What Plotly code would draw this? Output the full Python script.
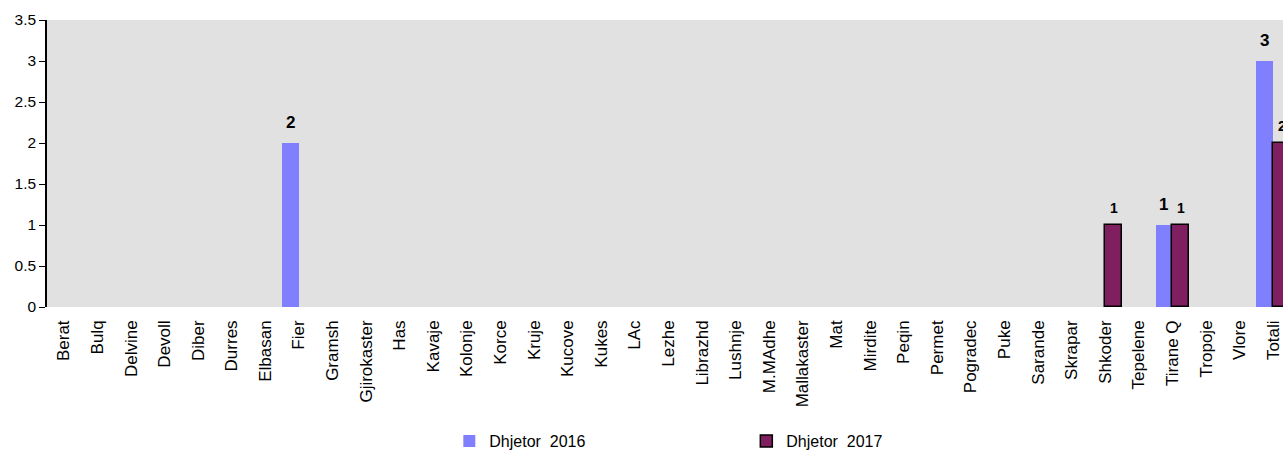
import plotly.graph_objects as go

categories = ["Berat", "Bulq", "Delvine", "Devoll", "Diber", "Durres", "Elbasan", "Fier",
              "Gramsh", "Gjirokaster", "Has", "Kavaje", "Kolonje", "Korce", "Kruje", "Kucove",
              "Kukes", "LAc", "Lezhe", "Librazhd", "Lushnje", "M.MAdhe", "Mallakaster", "Mat",
              "Mirdite", "Peqin", "Permet", "Pogradec", "Puke", "Sarande", "Skrapar", "Shkoder",
              "Tepelene", "Tirane Q", "Tropoje", "Vlore", "Totali"]
dhjetor_2016 = [0, 0, 0, 0, 0, 0, 0, 2, 0, 0, 0, 0, 0, 0, 0, 0, 0, 0, 0, 0, 0, 0, 0, 0,
                0, 0, 0, 0, 0, 0, 0, 0, 0, 1, 0, 0, 3]
dhjetor_2017 = [0, 0, 0, 0, 0, 0, 0, 0, 0, 0, 0, 0, 0, 0, 0, 0, 0, 0, 0, 0, 0, 0, 0, 0,
                0, 0, 0, 0, 0, 0, 0, 1, 0, 1, 0, 0, 2]
series_names = ["Dhjetor  2016", "Dhjetor  2017"]

BLUE = "#8080FF"
PURPLE = "#801F60"
FONT = "Liberation Sans, Arial, sans-serif"

fig = go.Figure()
fig.add_trace(go.Bar(x=categories, y=dhjetor_2016, name=series_names[0],
                     marker=dict(color=BLUE, line=dict(width=0))))
# zero values are drawn as empty bars so no outline appears at the baseline
fig.add_trace(go.Bar(x=categories, y=[v if v else None for v in dhjetor_2017],
                     name=series_names[1],
                     marker=dict(color=PURPLE, line=dict(color="black", width=1.5))))

annotations = []
for i, c in enumerate(categories):
    if dhjetor_2016[i]:
        annotations.append(dict(x=i, y=dhjetor_2016[i], xref="x", yref="y", xshift=-8.5,
                                yshift=21, text="<b>%g</b>" % dhjetor_2016[i], showarrow=False,
                                font=dict(family=FONT, size=17, color="black"), yanchor="middle"))
    if dhjetor_2017[i]:
        annotations.append(dict(x=i, y=dhjetor_2017[i], xref="x", yref="y", xshift=8.5,
                                yshift=17, text="<b>%g</b>" % dhjetor_2017[i], showarrow=False,
                                font=dict(family=FONT, size=14, color="black"), yanchor="middle"))

fig.update_layout(
    width=1283, height=452,
    margin=dict(l=47, r=0, t=20, b=145, autoexpand=False),
    paper_bgcolor="white", plot_bgcolor="#E1E1E1",
    barmode="group", bargap=0, bargroupgap=0,
    font=dict(family=FONT, size=15.5, color="black"),
    annotations=annotations,
    showlegend=True,
    legend=dict(orientation="h", x=0.3255, xanchor="left", yref="container", y=0.0243,
                yanchor="middle", entrywidth=252, font=dict(size=16),
                bgcolor="rgba(0,0,0,0)"),
    xaxis=dict(type="category", range=[-0.5, 36.29], tickangle=-90, showgrid=False,
               showline=False, ticks="", tickfont=dict(size=17), ticklabelstandoff=9,
               automargin=False),
    yaxis=dict(range=[0, 3.5], dtick=0.5, showgrid=False, showline=True, linecolor="black",
               linewidth=1.5, ticks="outside", ticklen=6, tickcolor="black",
               tickfont=dict(size=15.5), zeroline=False, automargin=False),
)

fig.write_html("out.html", config={"displayModeBar": False},
               post_script="document.body.style.margin='0';")
